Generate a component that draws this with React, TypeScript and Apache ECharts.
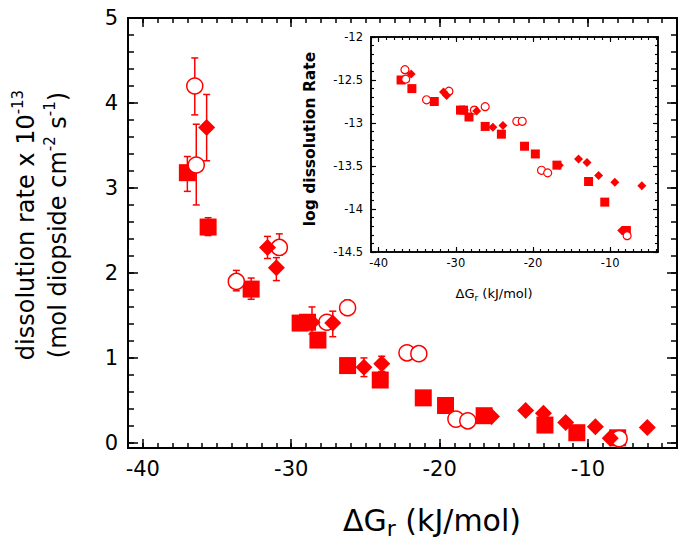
import React, { useEffect, useRef } from "react";
import * as echarts from "echarts";

const RED = "#ff0000";
const FONT = "DejaVu Sans";

// ---- Main panel data (rate x 1e-13) ----
const squareX = [-37.0, -35.6, -32.7, -29.4, -28.9, -28.2, -26.2, -24.0, -21.1, -19.6, -17.0, -12.9, -10.75, -8.0];
const squareY = [3.18, 2.54, 1.81, 1.41, 1.42, 1.21, 0.91, 0.74, 0.53, 0.44, 0.32, 0.21, 0.12, 0.06];
const circleX = [-36.5, -36.4, -33.7, -30.8, -27.6, -26.2, -22.2, -21.4, -18.9, -18.1, -7.9];
const circleY = [4.2, 3.27, 1.9, 2.3, 1.42, 1.59, 1.06, 1.05, 0.28, 0.26, 0.05];
const diamondX = [-35.7, -31.6, -31.0, -28.6, -27.2, -25.1, -23.9, -16.5, -14.2, -13.0, -11.5, -9.5, -8.5, -6.0];
const diamondY = [3.71, 2.3, 2.06, 1.42, 1.41, 0.89, 0.93, 0.31, 0.38, 0.35, 0.24, 0.19, 0.055, 0.18];

// error bars: x, low, high
const errX = [-37.0, -35.6, -36.5, -36.4, -35.7, -33.7, -32.7, -31.6, -30.8, -31.0, -28.6, -27.2, -26.2, -25.1, -23.9];
const errLo = [2.96, 2.44, 3.86, 2.8, 3.32, 1.79, 1.69, 2.17, 2.21, 1.91, 1.28, 1.25, 1.5, 0.78, 0.84];
const errHi = [3.37, 2.65, 4.53, 3.75, 4.1, 2.03, 1.94, 2.43, 2.46, 2.18, 1.6, 1.55, 1.68, 1.0, 1.02];

// ---- Inset data (log rate) ----
const inSquareX = [-37.1, -35.7, -32.8, -29.4, -29.0, -28.3, -26.2, -24.1, -21.1, -19.7, -16.9, -12.8, -10.7, -7.9];
const inSquareY = [-12.5, -12.6, -12.75, -12.85, -12.85, -12.93, -13.04, -13.13, -13.27, -13.36, -13.49, -13.68, -13.92, -14.25];
const inCircleX = [-36.6, -36.5, -33.8, -30.9, -27.6, -26.2, -22.1, -21.4, -18.9, -18.1, -7.8];
const inCircleY = [-12.38, -12.49, -12.73, -12.63, -12.85, -12.81, -12.98, -12.98, -13.55, -13.58, -14.31];
const inDiamondX = [-35.8, -31.6, -31.2, -28.9, -27.3, -25.2, -23.9, -16.6, -14.1, -13.0, -11.5, -9.4, -8.5, -5.9];
const inDiamondY = [-12.43, -12.64, -12.68, -12.85, -12.86, -13.05, -13.03, -13.49, -13.42, -13.46, -13.61, -13.69, -14.25, -13.73];

// ---- Ticks ----
const mainXTicks = [-40, -30, -20, -10];
const mainYTicks = [0, 1, 2, 3, 4, 5];
const inXTicks = [-40, -30, -20, -10];
const inYTicks = [-14.5, -14, -13.5, -13, -12.5, -12];

function range(a: number, b: number, step: number) {
  const out: number[] = [];
  for (let v = a; v <= b + 1e-9; v += step) out.push(Math.round(v * 100) / 100);
  return out;
}
const mainXMinor = range(-41, -4, 1);
const mainYMinor = range(0, 5, 0.2);
const inXMinor = range(-41, -4, 1);
const inYMinor = range(-14.5, -12, 0.1);

const zip = (a: number[], b: number[]) => a.map((v, i) => [v, b[i]]);

function ax(grid: number, min: number, max: number, pos: string, ticks: number[], len: number, lw: number, labels: boolean, fs: number, margin: number) {
  return {
    type: "value", gridIndex: grid, min, max, position: pos,
    axisLine: { show: true, onZero: false, lineStyle: { color: "#000", width: lw } },
    axisTick: { show: true, inside: true, length: len, customValues: ticks, lineStyle: { color: "#000", width: lw * 0.75 } },
    axisLabel: labels ? { show: true, customValues: ticks, color: "#000", fontSize: fs, fontFamily: FONT, margin } : { show: false },
    splitLine: { show: false },
  };
}

export default function App() {
  const ref = useRef<HTMLDivElement>(null);
  useEffect(() => {
    if (!ref.current) return;
    const chart = echarts.init(ref.current, undefined, { renderer: "svg" });
    const errRender = (params: any, api: any) => {
      const x = api.value(0);
      const p1 = api.coord([x, api.value(1)]);
      const p2 = api.coord([x, api.value(2)]);
      const w = 3.5;
      const st = { stroke: RED, lineWidth: 1.5 };
      return {
        type: "group",
        children: [
          { type: "line", shape: { x1: p1[0], y1: p1[1], x2: p2[0], y2: p2[1] }, style: st },
          { type: "line", shape: { x1: p1[0] - w, y1: p1[1], x2: p1[0] + w, y2: p1[1] }, style: st },
          { type: "line", shape: { x1: p2[0] - w, y1: p2[1], x2: p2[0] + w, y2: p2[1] }, style: st },
        ],
      };
    };
    const option: any = {
      animation: false,
      backgroundColor: "#fff",
      grid: [
        { left: 128, right: 8, top: 18, bottom: 98, outerBoundsMode: "none" },
        { left: 371, right: 27, top: 37, bottom: 294, outerBoundsMode: "none", show: true, backgroundColor: "#fff", borderWidth: 0 },
      ],
      xAxis: [
        ax(0, -41, -4, "bottom", mainXTicks, 9, 2, true, 21, 10),
        ax(0, -41, -4, "top", mainXTicks, 9, 2, false, 0, 0),
        ax(0, -41, -4, "bottom", mainXMinor, 5, 2, false, 0, 0),
        ax(0, -41, -4, "top", mainXMinor, 5, 2, false, 0, 0),
        ax(1, -41, -3.8, "bottom", inXTicks, 5, 1.5, true, 11.5, 5),
        ax(1, -41, -3.8, "top", inXTicks, 5, 1.5, false, 0, 0),
        ax(1, -41, -3.8, "bottom", inXMinor, 3, 1.5, false, 0, 0),
        ax(1, -41, -3.8, "top", inXMinor, 3, 1.5, false, 0, 0),
      ],
      yAxis: [
        ax(0, -0.06, 5, "left", mainYTicks, 10, 2, true, 21, 10),
        ax(0, -0.06, 5, "right", mainYTicks, 10, 2, false, 0, 0),
        ax(0, -0.06, 5, "left", mainYMinor, 6, 2, false, 0, 0),
        ax(0, -0.06, 5, "right", mainYMinor, 6, 2, false, 0, 0),
        ax(1, -14.5, -12, "left", inYTicks, 5, 1.5, true, 11.5, 8),
        ax(1, -14.5, -12, "right", inYTicks, 5, 1.5, false, 0, 0),
        ax(1, -14.5, -12, "left", inYMinor, 3, 1.5, false, 0, 0),
        ax(1, -14.5, -12, "right", inYMinor, 3, 1.5, false, 0, 0),
      ],
      series: [
        {
          type: "custom", xAxisIndex: 0, yAxisIndex: 0,
          data: errX.map((x, i) => [x, errLo[i], errHi[i]]),
          encode: { x: 0, y: [1, 2] },
          renderItem: errRender, z: 1,
        },
        { type: "scatter", xAxisIndex: 0, yAxisIndex: 0, symbol: "rect", symbolSize: 17, data: zip(squareX, squareY), itemStyle: { color: RED, opacity: 1 }, z: 2 },
        { type: "scatter", xAxisIndex: 0, yAxisIndex: 0, symbol: "circle", symbolSize: 16, data: zip(circleX, circleY), itemStyle: { color: "#fff", borderColor: RED, borderWidth: 1.5, opacity: 1 }, z: 3 },
        { type: "scatter", xAxisIndex: 0, yAxisIndex: 0, symbol: "diamond", symbolSize: 17, data: zip(diamondX, diamondY), itemStyle: { color: RED, opacity: 1 }, z: 4 },
        { type: "scatter", xAxisIndex: 4, yAxisIndex: 4, symbol: "rect", symbolSize: 9, data: zip(inSquareX, inSquareY), itemStyle: { color: RED, opacity: 1 }, z: 5 },
        { type: "scatter", xAxisIndex: 4, yAxisIndex: 4, symbol: "circle", symbolSize: 8, data: zip(inCircleX, inCircleY), itemStyle: { color: "#fff", borderColor: RED, borderWidth: 1.2, opacity: 1 }, z: 6 },
        { type: "scatter", xAxisIndex: 4, yAxisIndex: 4, symbol: "diamond", symbolSize: 9, data: zip(inDiamondX, inDiamondY), itemStyle: { color: RED, opacity: 1 }, z: 7 },
      ],
      graphic: [
        {
          type: "text", x: 42, y: 225, rotation: Math.PI / 2,
          style: {
            text: "{n|dissolution rate x 10}{s|-13}\n{n|(mol diopside cm}{s|-2}{n| s}{s|-1}{n|)}",
            align: "center", verticalAlign: "middle",
            rich: {
              n: { fontSize: 24, fontFamily: FONT, fill: "#000", lineHeight: 32 },
              s: { fontSize: 15, fontFamily: FONT, fill: "#000", lineHeight: 18, verticalAlign: "top" },
            },
          },
        },
        {
          type: "text", x: 432, y: 520,
          style: {
            text: "{n|ΔG}{s|r}{n| (kJ/mol)}",
            align: "center", verticalAlign: "middle",
            rich: {
              n: { fontSize: 30, fontFamily: FONT, fill: "#000", lineHeight: 38 },
              s: { fontSize: 22, fontFamily: FONT, fill: "#000", lineHeight: 27, verticalAlign: "bottom" },
            },
          },
        },
        {
          type: "text", x: 310, y: 139, rotation: Math.PI / 2,
          style: { text: "log dissolution Rate", align: "center", verticalAlign: "middle", fontSize: 15.5, fontWeight: "bold", fontFamily: FONT, fill: "#000" },
        },
        {
          type: "text", x: 494, y: 293,
          style: {
            text: "{n|ΔG}{s|r}{n| (kJ/mol)}",
            align: "center", verticalAlign: "middle",
            rich: {
              n: { fontSize: 13, fontFamily: FONT, fill: "#000", lineHeight: 18 },
              s: { fontSize: 9, fontFamily: FONT, fill: "#000", lineHeight: 11, verticalAlign: "bottom" },
            },
          },
        },
      ],
    };
    chart.setOption(option);
    return () => chart.dispose();
  }, []);
  return <div ref={ref} style={{ position: "fixed", left: 0, top: 0, width: 685, height: 546 }} />;
}
